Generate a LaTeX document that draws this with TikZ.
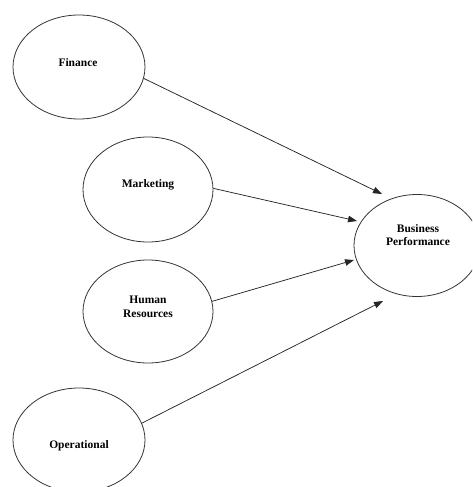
\documentclass[tikz,border=0pt]{standalone}
\usepackage{fontspec}
\setmainfont{Liberation Serif}
\usetikzlibrary{shapes.geometric,arrows.meta}
\tikzset{
  oval/.style={draw=black!80, line width=0.8pt, ellipse, inner sep=0pt},
  lbl/.style={font=\fontsize{11.5}{13.5}\selectfont\bfseries, align=center, inner sep=0pt},
  link/.style={draw=black!85, line width=0.75pt, -{Triangle[length=9pt,width=6.5pt]}}
}
\begin{document}
\begin{tikzpicture}[x=1pt,y=-1pt]
\useasboundingbox (0,0) rectangle (472,487);
\clip (0,0) rectangle (472,487);
\node[oval, minimum width=132pt, minimum height=104pt] (fin) at (79,67) {};
\node[lbl] (fint) at (78,63) {Finance};
\node[oval, minimum width=130pt, minimum height=105pt] (mkt) at (148,189.5) {};
\node[lbl] (mktt) at (148,185) {Marketing};
\node[oval, minimum width=130pt, minimum height=103pt] (hr) at (148,311.5) {};
\node[lbl] (hrt) at (148,307) {Human\\Resources};
\node[oval, minimum width=132pt, minimum height=104pt] (ops) at (79,440) {};
\node[lbl] (opst) at (79,446) {Operational};
\node[oval, minimum width=126pt, minimum height=102pt] (bp) at (417,245.5) {};
\node[lbl] (bpt) at (418,235) {Business\\Performance};
\coordinate (t1) at (382,194);
\coordinate (t2) at (357,221);
\coordinate (t3) at (354,260);
\coordinate (t4) at (383,301);
\draw[link] (fin.-10.6) -- (t1);
\draw[link] (mkt.1) -- (t2);
\draw[link] (hr.9.3) -- (t3);
\draw[link] (ops.15.8) -- (t4);
\end{tikzpicture}
\end{document}
